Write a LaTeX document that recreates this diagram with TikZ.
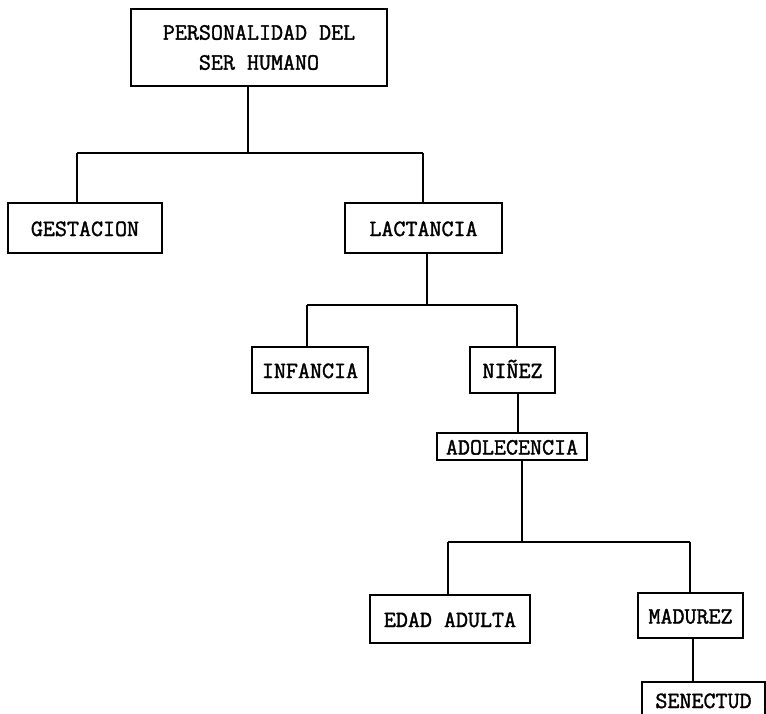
\documentclass[tikz,border=0pt]{standalone}
\usepackage{fontspec}
\newfontfamily\tw[FakeBold=1.6]{Latin Modern Mono}
\begin{document}
\begin{tikzpicture}[x=0.75pt,y=-0.75pt,
  box/.style={draw,line width=1.5pt,inner sep=0pt,font=\tw\fontsize{17.5pt}{22.5pt}\selectfont,align=center},
  sbox/.style={box,text height=12pt,text depth=0pt},
  link/.style={line width=2pt}]
\useasboundingbox (0,0) rectangle (766,713);
\clip (0,0) rectangle (766,713);
\fill[white] (0,0) rectangle (766,713);
\node[box,minimum width=256*0.75pt,minimum height=77*0.75pt] (top) at (259,47.5) {PERSONALIDAD DEL\\SER HUMANO};
\node[sbox,minimum width=154*0.75pt,minimum height=50*0.75pt] (gest) at (85,228) {GESTACION};
\node[sbox,minimum width=157*0.75pt,minimum height=50*0.75pt] (lact) at (423.5,228) {LACTANCIA};
\node[sbox,minimum width=116*0.75pt,minimum height=46*0.75pt] (inf) at (310,370) {INFANCIA};
\node[sbox,minimum width=85*0.75pt,minimum height=46*0.75pt] (nin) at (512.5,370) {NIÑEZ};
\node[sbox,minimum width=150*0.75pt,minimum height=27*0.75pt] (ado) at (512,446.5) {ADOLECENCIA};
\node[sbox,minimum width=160*0.75pt,minimum height=48*0.75pt] (edad) at (450,619) {EDAD ADULTA};
\node[sbox,minimum width=105*0.75pt,minimum height=45*0.75pt] (mad) at (690.5,615.5) {MADUREZ};
\node[sbox,minimum width=123*0.75pt,minimum height=36*0.75pt] (sen) at (703.5,700) {SENECTUD};
% level 1
\coordinate (j1) at (248,153);
\coordinate (j1a) at (77,153);
\coordinate (j1b) at (423,153);
\draw[link] (top.south -| j1) -- (j1);
\draw[link] (j1a) -- (j1b);
\draw[link] (j1a) -- (gest.north -| j1a);
\draw[link] (j1b) -- (lact.north -| j1b);
% level 2
\coordinate (j2) at (427,305);
\coordinate (j2a) at (307,305);
\coordinate (j2b) at (517,305);
\draw[link] (lact.south -| j2) -- (j2);
\draw[link] (j2a) -- (j2b);
\draw[link] (j2a) -- (inf.north -| j2a);
\draw[link] (j2b) -- (nin.north -| j2b);
% ninez to adolecencia
\coordinate (j3) at (518,400);
\draw[link] (nin.south -| j3) -- (ado.north -| j3);
% level 3
\coordinate (j4) at (522,542);
\coordinate (j4a) at (448,542);
\coordinate (j4b) at (690,542);
\draw[link] (ado.south -| j4) -- (j4);
\draw[link] (j4a) -- (j4b);
\draw[link] (j4a) -- (edad.north -| j4a);
\draw[link] (j4b) -- (mad.north -| j4b);
% madurez to senectud
\coordinate (j5) at (693,660);
\draw[link] (mad.south -| j5) -- (sen.north -| j5);
\end{tikzpicture}
\end{document}
